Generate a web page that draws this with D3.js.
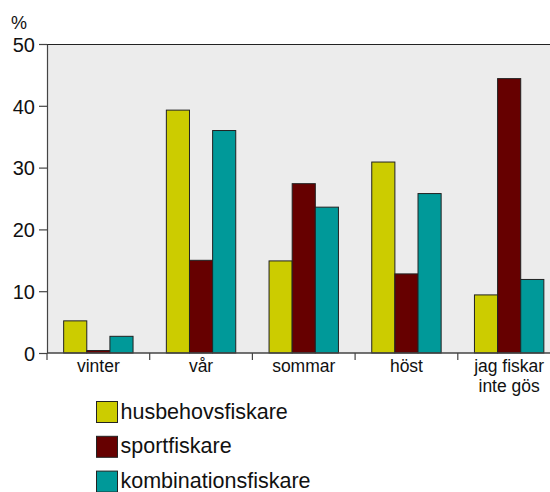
<!DOCTYPE html>
<html><head><meta charset="utf-8">
<script src="https://cdn.jsdelivr.net/npm/d3@7"></script>
<style>body{margin:0;background:#fff}svg{display:block}text{font-family:"Liberation Sans",Arial,sans-serif;fill:#111}</style>
</head><body>
<script>
const categories = ["vinter", "vår", "sommar", "höst", "jag fiskar\ninte gös"];
const series = ["husbehovsfiskare", "sportfiskare", "kombinationsfiskare"];
const husbehovsfiskare = [5.2, 39.3, 14.9, 30.9, 9.4];
const sportfiskare = [0.4, 15.0, 27.4, 12.8, 44.4];
const kombinationsfiskare = [2.7, 36.0, 23.6, 25.8, 11.9];
const colors = ["#cccc00", "#660000", "#009999"];
const yTicks = [0, 10, 20, 30, 40, 50];

const values = [husbehovsfiskare, sportfiskare, kombinationsfiskare];
const W = 550, H = 492;
const svg = d3.select("body").append("svg").attr("width", W).attr("height", H);

const pLeft = 47, pRight = 560.5, pTop = 44, pBottom = 353;
const x = d3.scaleBand().domain(categories).range([pLeft, pRight]);
const xs = d3.scaleBand().domain(series).range([0, x.bandwidth()]).paddingInner(0).paddingOuter(0.72);
const y = d3.scaleLinear().domain([0, 50]).range([pBottom, pTop]);

svg.append("rect").attr("x", pLeft).attr("y", pTop).attr("width", pRight - pLeft).attr("height", pBottom - pTop).attr("fill", "#ececec");
svg.append("line").attr("x1", pLeft).attr("x2", pRight).attr("y1", pTop + 0.5).attr("y2", pTop + 0.5).attr("stroke", "#222").attr("stroke-width", 1.2);

categories.forEach((c, i) => {
  series.forEach((s, j) => {
    svg.append("rect")
      .attr("x", x(c) + xs(s))
      .attr("y", y(values[j][i]))
      .attr("width", xs.bandwidth())
      .attr("height", pBottom - y(values[j][i]))
      .attr("fill", colors[j])
      .attr("stroke", "#222").attr("stroke-width", 1);
  });
});

// y axis
const yAxis = svg.append("g").attr("transform", `translate(${pLeft},0)`)
  .call(d3.axisLeft(y).tickValues(yTicks).tickSize(8).tickSizeOuter(0).tickPadding(4));
yAxis.select(".domain").attr("stroke", "#444").attr("stroke-width", 1.2);
yAxis.selectAll(".tick line").attr("stroke", "#444").attr("stroke-width", 1.2);
yAxis.selectAll("text").style("font-size", "20px").attr("fill", "#111").attr("dy", "0.36em");

// x axis
svg.append("line").attr("x1", pLeft).attr("x2", pRight).attr("y1", pBottom).attr("y2", pBottom).attr("stroke", "#444").attr("stroke-width", 1.5);
categories.forEach(c => {
  svg.append("line").attr("x1", x(c)).attr("x2", x(c)).attr("y1", pBottom).attr("y2", pBottom + 7).attr("stroke", "#444").attr("stroke-width", 1.2);
  const lines = c.split("\n");
  const t = svg.append("text").attr("text-anchor", "middle").style("font-size", "17.5px");
  lines.forEach((l, k) => {
    t.append("tspan").attr("x", x(c) + x.bandwidth() / 2).attr("y", 372 + k * 20).text(l);
  });
});

svg.append("text").attr("x", 11).attr("y", 29).style("font-size", "18px").text("%");

// legend
series.forEach((s, j) => {
  const ly = 401.5 + j * 34.8;
  svg.append("rect").attr("x", 96.5).attr("y", ly).attr("width", 21).attr("height", 21)
    .attr("fill", colors[j]).attr("stroke", "#222").attr("stroke-width", 1);
  svg.append("text").attr("x", 120.5).attr("y", ly + 17).style("font-size", "21.5px").text(s);
});
</script>
</body></html>
